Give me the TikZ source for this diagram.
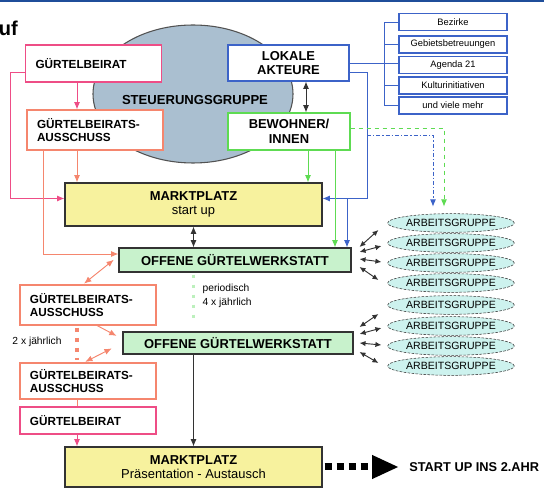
\documentclass[tikz,border=0pt]{standalone}
\usepackage{fontspec}
\setmainfont{Liberation Sans}
\usetikzlibrary{arrows.meta,shapes.geometric}

\definecolor{pnk}{HTML}{EE4D86}
\definecolor{sal}{HTML}{F5866E}
\definecolor{blu}{HTML}{3C63C8}
\definecolor{grn}{HTML}{5EDB52}
\definecolor{lgn}{HTML}{BDF0BD}
\definecolor{yel}{HTML}{F7F29E}
\definecolor{ogf}{HTML}{C8F2CC}
\definecolor{sgf}{HTML}{AABFD0}
\definecolor{agf}{HTML}{CDF2EE}
\definecolor{dkb}{HTML}{333333}
\definecolor{tbl}{HTML}{1F4E9A}

\tikzset{
  box/.style={draw, line width=0.8pt, inner ysep=0pt},
  lbox/.style={box, fill=white, text width=87pt, inner xsep=7.5pt, align=left,
    font=\bfseries\fontsize{8.8}{10}\selectfont},
  mbox/.style={box, draw=dkb, align=center, font=\bfseries\fontsize{9.7}{11}\selectfont},
  listbox/.style={draw=blu, line width=0.8pt, fill=white, minimum width=81pt,
    minimum height=12.75pt, inner sep=0pt, font=\fontsize{7}{8}\selectfont},
  agrp/.style={ellipse, draw=dkb, dash pattern=on 2pt off 1pt, fill=agf, minimum width=87pt,
    minimum height=14pt, inner sep=0pt, font=\fontsize{7.9}{9}\selectfont},
  steuer/.style={ellipse, draw=dkb!85, line width=0.8pt, fill=sgf, minimum width=150pt,
    minimum height=103.5pt},
  small/.style={font=\fontsize{7.7}{10.5}\selectfont, inner sep=1pt},
  arr/.style={-{Latex[length=5.5pt,width=4.5pt]}},
  dbl/.style={{Latex[length=5.5pt,width=4.5pt]}-{Latex[length=5.5pt,width=4.5pt]}},
  sdbl/.style={draw=dkb, line width=0.7pt, {Latex[length=4.5pt,width=4pt]}-{Latex[length=4.5pt,width=4pt]}},
  pl/.style={draw=pnk, line width=0.7pt},
  sl/.style={draw=sal, line width=0.7pt},
  bl/.style={draw=blu, line width=0.7pt},
  gl/.style={draw=grn, line width=0.7pt},
  kl/.style={draw=dkb, line width=0.7pt},
  sdots/.style={draw=sal, line width=3pt, dash pattern=on 3pt off 4.5pt},
  gdots/.style={draw=lgn, line width=2.5pt, dash pattern=on 2.5pt off 5pt},
  bigdash/.style={draw=black, line width=5.25pt, dash pattern=on 5.25pt off 3.75pt,
    -{Triangle[length=20.25pt,width=16.5pt]}}
}

\begin{document}
\begin{tikzpicture}[x=0.75pt,y=-0.75pt]
\useasboundingbox (0,0) rectangle (544,488);

\path[draw=tbl,line width=1.5pt] (0,1) -- (544,1);
\node[font=\bfseries\fontsize{15}{18}\selectfont,anchor=base east,inner sep=0pt] (ttl) at (18,36) {uf};

%steuerungsgruppe
\node[steuer] (sg) at (193,94) {};
\node[font=\bfseries\fontsize{9.8}{11}\selectfont] (sgt) at (195,100) {STEUERUNGSGRUPPE};

%top boxes
\node[lbox,draw=pnk,minimum height=27.75pt] (gb1) at (93.5,63.5) {GÜRTELBEIRAT};
\node[lbox,draw=sal,minimum height=30pt] (ga1) at (95,130) {GÜRTELBEIRATS-\\AUSSCHUSS};
\node[mbox,draw=blu,fill=white,minimum width=90.75pt,minimum height=27pt] (la) at (288.5,63) {LOKALE\\AKTEURE};
\node[mbox,draw=grn,fill=white,minimum width=91.5pt,minimum height=27.75pt] (bw) at (289,131.5) {BEWOHNER/\\INNEN};

%list
\node[listbox] (l1) at (453,22) {Bezirke};
\node[listbox] (l2) at (453,44.5) {Gebietsbetreuungen};
\node[listbox] (l3) at (453,65) {Agenda 21};
\node[listbox] (l4) at (453,85.5) {Kulturinitiativen};
\node[listbox] (l5) at (453,105.5) {und viele mehr};

%main column
\node[mbox,fill=yel,minimum width=192.75pt,minimum height=32.25pt] (mp1) at (193.5,204.5) {MARKTPLATZ\\\mdseries start up};
\node[mbox,fill=ogf,minimum width=174pt,minimum height=18pt] (og1) at (235,260) {OFFENE GÜRTELWERKSTATT};
\node[mbox,fill=ogf,minimum width=172.5pt,minimum height=16.5pt] (og2) at (238,343) {OFFENE GÜRTELWERKSTATT};
\node[mbox,fill=yel,minimum width=192.75pt,minimum height=30pt] (mp2) at (193.5,467) {MARKTPLATZ\\\mdseries Präsentation - Austausch};

%left column
\node[lbox,draw=sal,minimum height=30pt] (ga2) at (88,305) {GÜRTELBEIRATS-\\AUSSCHUSS};
\node[lbox,draw=sal,minimum height=27pt] (ga3) at (88,381) {GÜRTELBEIRATS-\\AUSSCHUSS};
\node[lbox,draw=pnk,minimum height=20.25pt] (gb2) at (88,420.5) {GÜRTELBEIRAT};

\node[small] (zj) at (37,342) {2 x jährlich};
\node[small,align=left,anchor=west] (per) at (201,296) {periodisch\\4 x jährlich};

%arbeitsgruppen
\node[agrp] (ag1) at (451,223) {ARBEITSGRUPPE};
\node[agrp] (ag2) at (451,243) {ARBEITSGRUPPE};
\node[agrp] (ag3) at (451,263) {ARBEITSGRUPPE};
\node[agrp] (ag4) at (451,283) {ARBEITSGRUPPE};
\node[agrp] (ag5) at (451,305) {ARBEITSGRUPPE};
\node[agrp] (ag6) at (451,326) {ARBEITSGRUPPE};
\node[agrp] (ag7) at (451,346) {ARBEITSGRUPPE};
\node[agrp] (ag8) at (451,366) {ARBEITSGRUPPE};

\node[font=\bfseries\fontsize{9.6}{11}\selectfont,anchor=west,inner sep=1.5pt] (su) at (407,467) {START UP INS 2.AHR};

%helper coordinates
\coordinate (xp) at (10,0);
\coordinate (xs) at (43,0);
\coordinate (xa) at (77,0);
\coordinate (xk) at (306,0);
\coordinate (xg1) at (308,0);
\coordinate (xg2) at (335,0);
\coordinate (xb2) at (347,0);
\coordinate (xb1) at (367,0);
\coordinate (xd2) at (433,0);
\coordinate (xd1) at (444,0);
\coordinate (bd) at (367,135);
\coordinate (mpl) at ([yshift=4.5pt]mp1.west);
\coordinate (mpr) at ([yshift=4.5pt]mp1.east);

%pink and salmon
\draw[pl,arr] ([yshift=-6.4pt]gb1.west) -| (mpl -| xp) -- (mpl);
\draw[pl,arr] (gb1.south -| xa) -- (ga1.north -| xa);
\draw[sl,arr] (ga1.south -| xa) -- (mp1.north -| xa);
\draw[sl,arr] (ga1.south -| xs) |- ([yshift=4.5pt]og1.west);
\draw[sl,dbl,shorten <=4.5pt,shorten >=1pt] ([yshift=3pt]og1.west) -- ([xshift=-3.75pt]ga2.north);
\draw[sl,arr,shorten >=5pt] ([xshift=6.75pt]ga2.south) -- ([yshift=3pt]og2.west);
\draw[sl,dbl,shorten <=9pt,shorten >=1pt] (og2.west) -- ([xshift=-3pt]ga3.north);
\draw[sdots,shorten <=1.5pt,shorten >=2pt] (ga2.south -| xa) -- (ga3.north -| xa);
\draw[sl] (ga3.south -| xa) -- (gb2.north -| xa);
\draw[pl,arr] (gb2.south -| xa) -- (mp2.north -| xa);

%blue
\draw[bl] (l1.west) -- ++(-14,0) |- (l5.west);
\draw[bl] (l2.west) -- ++(-14,0);
\draw[bl] (l4.west) -- ++(-14,0);
\draw[bl] (la.east) -- (la.east -| l3.west);
\draw[bl,arr] ([yshift=-6.75pt]la.east) -| (mpr -| xb1) -- (mpr);
\draw[bl,arr] (mpr -| xb2) -- (og1.north -| xb2);
\draw[bl,dash pattern=on 3pt off 1.5pt on 1pt off 1.5pt,arr,shorten >=5pt] (bd) -| (ag1.north -| xd2);

%green
\draw[gl,arr] (bw.south -| xg1) -- (mp1.north -| xg1);
\draw[gl,arr] (bw.south -| xg2) -- (og1.north -| xg2);
\draw[gl,dashed,arr,shorten >=5pt] ([yshift=2.6pt]bw.east) -| (ag1.north -| xd1);
\draw[gdots,shorten <=1.5pt,shorten >=6pt] (og1.south -| mp1.south) -- (og2.north -| mp1.south);

%black
\draw[kl,dbl] (la.south -| xk) -- (bw.north -| xk);
\draw[kl,dbl] (mp1.south) -- (mp1.south |- og1.north);
\draw[kl,arr] (og2.south -| mp2.north) -- (mp2.north);

%werkstatt 1 - gruppen
\draw[sdbl] ([xshift=6pt,yshift=9.75pt]og1.east) -- ([xshift=-6.75pt,yshift=-5.25pt]ag1.west);
\draw[sdbl] ([xshift=6pt,yshift=6pt]og1.east) -- ([xshift=-4.5pt,yshift=-2.25pt]ag2.west);
\draw[sdbl] ([xshift=6pt,yshift=0.75pt]og1.east) -- ([xshift=-4.5pt,yshift=0.75pt]ag3.west);
\draw[sdbl] ([xshift=6pt,yshift=-5.25pt]og1.east) -- ([xshift=-6.75pt,yshift=2.25pt]ag4.west);

%werkstatt 2 - gruppen
\draw[sdbl] ([xshift=4.5pt,yshift=12pt]og2.east) -- ([xshift=-6.75pt,yshift=-6.75pt]ag5.west);
\draw[sdbl] ([xshift=4.5pt,yshift=6.75pt]og2.east) -- ([xshift=-4.5pt,yshift=-1.5pt]ag6.west);
\draw[sdbl] ([xshift=4.5pt]og2.east) -- ([xshift=-4.5pt,yshift=0.75pt]ag7.west);
\draw[sdbl] ([xshift=4.5pt,yshift=-6.75pt]og2.east) -- ([xshift=-6.75pt,yshift=2.25pt]ag8.west);

\draw[bigdash,shorten <=1.5pt,shorten >=6pt] (su.west -| mp2.east) -- (su.west);

\end{tikzpicture}
\end{document}
